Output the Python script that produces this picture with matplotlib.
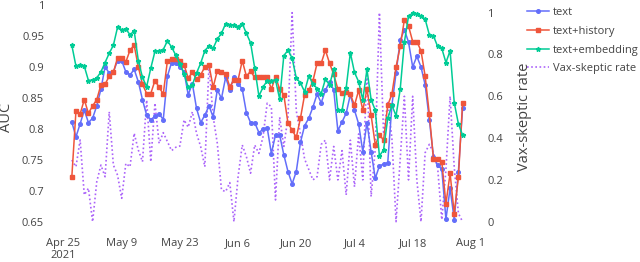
import matplotlib
matplotlib.use("Agg")
import matplotlib.pyplot as plt
import pandas as pd

plt.rcParams['font.family'] = ['Open Sans', 'DejaVu Sans']

# daily points, Apr 27 .. Jul 30 2021
dates = pd.date_range("2021-04-27", periods=95, freq="D")

text_auc = [0.811, 0.787, 0.808, 0.830, 0.810, 0.817, 0.837, 0.864, 0.900, 0.890,
            0.892, 0.910, 0.910, 0.892, 0.887, 0.896, 0.876, 0.847, 0.822, 0.815,
            0.820, 0.824, 0.815, 0.885, 0.907, 0.906, 0.900, 0.892, 0.855, 0.873,
            0.833, 0.810, 0.822, 0.837, 0.819, 0.863, 0.849, 0.883, 0.863, 0.883,
            0.873, 0.864, 0.826, 0.810, 0.810, 0.794, 0.799, 0.802, 0.760, 0.790,
            0.790, 0.758, 0.731, 0.711, 0.731, 0.778, 0.805, 0.817, 0.835, 0.856,
            0.842, 0.862, 0.876, 0.863, 0.797, 0.811, 0.825, 0.855, 0.830, 0.808,
            0.763, 0.810, 0.763, 0.720, 0.740, 0.743, 0.745, 0.838, 0.890, 0.943,
            0.960, 0.940, 0.900, 0.917, 0.900, 0.871, 0.815, 0.755, 0.741, 0.735,
            0.654, 0.704, 0.653, 0.731, 0.833]

history_auc = [0.722, 0.829, 0.824, 0.847, 0.825, 0.837, 0.847, 0.871, 0.872, 0.885,
               0.891, 0.915, 0.915, 0.908, 0.927, 0.935, 0.900, 0.872, 0.857, 0.857,
               0.878, 0.867, 0.856, 0.910, 0.912, 0.912, 0.910, 0.903, 0.882, 0.891,
               0.880, 0.887, 0.900, 0.903, 0.867, 0.894, 0.891, 0.889, 0.868, 0.879,
               0.879, 0.910, 0.885, 0.893, 0.883, 0.883, 0.883, 0.884, 0.864, 0.884,
               0.864, 0.855, 0.809, 0.798, 0.786, 0.817, 0.855, 0.862, 0.877, 0.906,
               0.906, 0.927, 0.906, 0.888, 0.864, 0.858, 0.860, 0.856, 0.838, 0.862,
               0.830, 0.864, 0.822, 0.774, 0.790, 0.782, 0.838, 0.856, 0.900, 0.933,
               0.976, 0.966, 0.941, 0.941, 0.926, 0.885, 0.824, 0.751, 0.751, 0.747,
               0.679, 0.728, 0.663, 0.722, 0.842]

embedding_auc = [0.935, 0.901, 0.903, 0.901, 0.878, 0.879, 0.882, 0.892, 0.907, 0.922,
                 0.935, 0.964, 0.960, 0.961, 0.952, 0.958, 0.910, 0.883, 0.868, 0.898,
                 0.925, 0.926, 0.928, 0.942, 0.932, 0.919, 0.905, 0.889, 0.867, 0.871,
                 0.890, 0.906, 0.926, 0.934, 0.930, 0.945, 0.954, 0.970, 0.968, 0.968,
                 0.965, 0.970, 0.954, 0.939, 0.898, 0.853, 0.867, 0.878, 0.878, 0.879,
                 0.848, 0.918, 0.927, 0.914, 0.882, 0.874, 0.860, 0.885, 0.873, 0.865,
                 0.857, 0.880, 0.871, 0.896, 0.830, 0.830, 0.866, 0.923, 0.891, 0.876,
                 0.847, 0.896, 0.847, 0.830, 0.756, 0.766, 0.817, 0.838, 0.821, 0.864,
                 0.940, 0.982, 0.987, 0.985, 0.982, 0.977, 0.952, 0.950, 0.933, 0.930,
                 0.907, 0.926, 0.842, 0.808, 0.790]

vax_rate = [0.295, 0.263, 0.391, 0.128, 0.160, 0.0, 0.191, 0.271, 0.215, 0.526,
            0.271, 0.223, 0.112, 0.279, 0.263, 0.423, 0.343, 0.287, 0.582, 0.287,
            0.567, 0.375, 0.426, 0.383, 0.340, 0.356, 0.362, 0.487, 0.452, 0.526,
            0.423, 0.359, 0.263, 0.750, 0.502, 0.375, 0.152, 0.144, 0.187, 0.0,
            0.215, 0.367, 0.311, 0.232, 0.367, 0.327, 0.407, 0.567, 0.55, 0.104,
            0.50, 0.36, 0.50, 1.0, 0.53, 0.42, 0.30, 0.25, 0.20, 0.215,
            0.37, 0.39, 0.20, 0.36, 0.20, 0.34, 0.128, 0.39, 0.167, 0.42,
            0.20, 0.73, 0.12, 0.35, 1.0, 0.42, 0.57, 0.40, 0.0, 0.30,
            0.60, 0.20, 0.60, 0.20, 0.0, 0.33, 0.37, 0.33, 0.26, 0.01,
            0.25, 0.60, 0.26, 0.04, 0.0]

tick_dates = pd.date_range("2021-04-25", "2021-08-01", freq="14D")
tick_labels = ["Apr 25\n2021", "May 9", "May 23", "Jun 6", "Jun 20", "Jul 4", "Jul 18", "Aug 1"]

W, H = 640, 262
fig = plt.figure(figsize=(W / 100, H / 100), dpi=100)
ax = fig.add_axes([60 / W, (H - 224) / H, 412 / W, 221 / H])
ax2 = ax.twinx()

c_text = "#636EFA"
c_hist = "#EF553B"
c_emb = "#00CC96"
c_vax = "#AB63FA"

l4, = ax2.plot(dates, vax_rate, color=c_vax, lw=1.2, linestyle=(0, (1, 1.5)),
               label="Vax-skeptic rate")
l1, = ax.plot(dates, text_auc, color=c_text, lw=1.1, marker="o", ms=2.6,
              label="text")
l2, = ax.plot(dates, history_auc, color=c_hist, lw=1.1, marker="s", ms=2.8,
              label="text+history")
l3, = ax.plot(dates, embedding_auc, color=c_emb, lw=1.1, marker="*", ms=3.4,
              label="text+embedding")
ax.set_zorder(ax2.get_zorder() + 1)
ax.patch.set_visible(False)

x0 = pd.Timestamp("2021-04-25")
ax.set_xlim(x0 - pd.Timedelta(days=0.842), x0 + pd.Timedelta(days=98.27))
ax.set_ylim(0.6462, 1.0032)
ax2.set_ylim(-0.011, 1.0464)

ax.set_xticks(tick_dates)
ax.set_xticklabels(tick_labels)
ax.set_yticks([0.65, 0.7, 0.75, 0.8, 0.85, 0.9, 0.95, 1.0])
ax.set_yticklabels(["0.65", "0.7", "0.75", "0.8", "0.85", "0.9", "0.95", "1"])
ax2.set_yticks([0, 0.2, 0.4, 0.6, 0.8, 1.0])
ax2.set_yticklabels(["0", "0.2", "0.4", "0.6", "0.8", "1"])

tc = "#444444"
ax.tick_params(axis="x", length=0, pad=10, labelsize=8, colors=tc)
ax.tick_params(axis="y", length=0, pad=11.5, labelsize=8, colors=tc)
ax2.tick_params(axis="y", length=0, pad=11, labelsize=8, colors=tc)
for a in (ax, ax2):
    for s in a.spines.values():
        s.set_visible(False)

fig.text(7 / W, 1 - 117 / H, "AUC", rotation=90, ha="center", va="center",
         fontsize=10.5, color=tc)
fig.text(524 / W, 1 - 117 / H, "Vax-skeptic rate", rotation=90, ha="center",
         va="center", fontsize=10.5, color=tc)

fig.legend(handles=[l1, l2, l3, l4], loc="upper left",
           bbox_to_anchor=(527 / W, 1 - 7 / H), frameon=False, fontsize=8,
           borderpad=0, borderaxespad=0, handlelength=2.0, handletextpad=0.3,
           labelspacing=0.7, labelcolor=tc)

fig.savefig("out.png", dpi=100)
